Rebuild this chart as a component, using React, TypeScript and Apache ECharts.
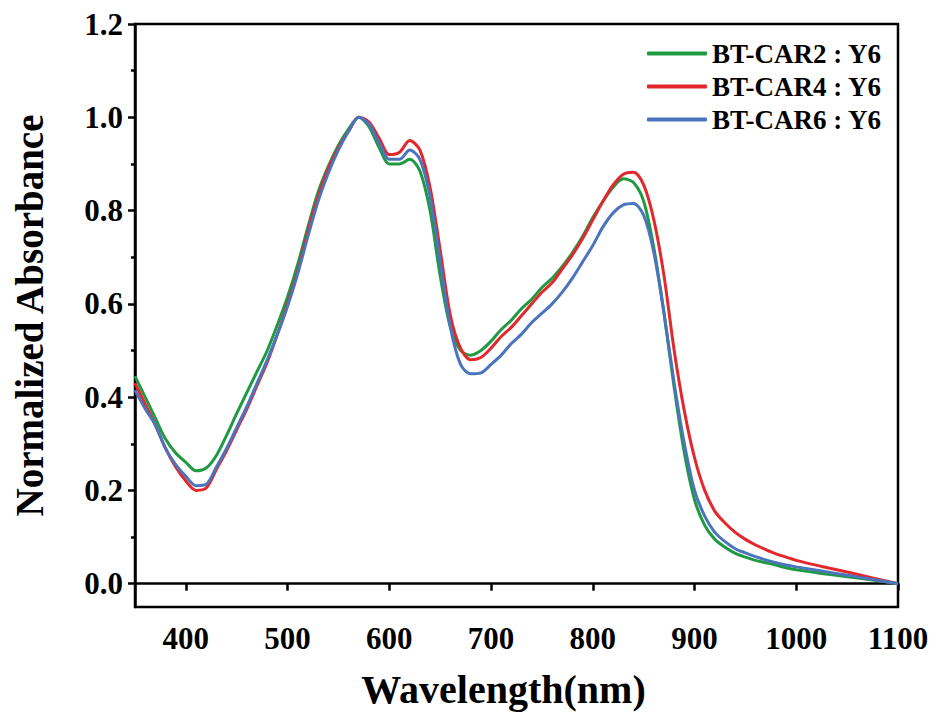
import React, { useEffect, useRef } from "react";
import * as echarts from "echarts";

const wavelengths = [350, 360, 370, 380, 390, 400, 410, 420, 430, 440, 450, 460, 470, 480, 490, 500, 510, 520, 530, 540, 550, 560, 570, 580, 590, 600, 610, 620, 630, 640, 650, 660, 670, 680, 690, 700, 710, 720, 730, 740, 750, 760, 770, 780, 790, 800, 810, 820, 830, 840, 850, 860, 870, 880, 890, 900, 910, 920, 930, 940, 950, 960, 970, 980, 990, 1000, 1025, 1050, 1075, 1100];

const car2 = [0.445, 0.4, 0.355, 0.31, 0.28, 0.26, 0.242, 0.248, 0.275, 0.318, 0.365, 0.41, 0.455, 0.5, 0.555, 0.615, 0.685, 0.765, 0.84, 0.895, 0.94, 0.975, 1.0, 0.98, 0.935, 0.9, 0.9, 0.91, 0.885, 0.8, 0.66, 0.55, 0.5, 0.49, 0.5, 0.52, 0.545, 0.565, 0.59, 0.61, 0.635, 0.655, 0.68, 0.71, 0.745, 0.785, 0.82, 0.85, 0.868, 0.86, 0.82, 0.72, 0.58, 0.42, 0.28, 0.18, 0.125, 0.095, 0.078, 0.065, 0.057, 0.05, 0.045, 0.04, 0.034, 0.03, 0.022, 0.015, 0.008, 0.0];

const car4 = [0.43, 0.385, 0.34, 0.29, 0.25, 0.22, 0.2, 0.205, 0.245, 0.285, 0.33, 0.375, 0.425, 0.475, 0.535, 0.6, 0.67, 0.755, 0.83, 0.89, 0.935, 0.97, 1.0, 0.99, 0.955, 0.92, 0.925, 0.95, 0.93, 0.85, 0.715, 0.575, 0.505, 0.48, 0.485, 0.505, 0.53, 0.55, 0.575, 0.6, 0.625, 0.645, 0.675, 0.705, 0.74, 0.78, 0.82, 0.855, 0.878, 0.882, 0.855, 0.78, 0.66, 0.5, 0.37, 0.27, 0.2, 0.155, 0.13, 0.11, 0.095, 0.083, 0.073, 0.064, 0.057, 0.05, 0.037, 0.025, 0.012, 0.0];

const car6 = [0.415, 0.375, 0.34, 0.29, 0.255, 0.23, 0.21, 0.213, 0.25, 0.29, 0.335, 0.38, 0.43, 0.48, 0.535, 0.595, 0.665, 0.745, 0.82, 0.88, 0.93, 0.97, 1.0, 0.985, 0.945, 0.91, 0.91, 0.93, 0.91, 0.83, 0.69, 0.55, 0.47, 0.45, 0.452, 0.47, 0.49, 0.515, 0.535, 0.56, 0.58, 0.6, 0.625, 0.655, 0.69, 0.725, 0.765, 0.795, 0.812, 0.815, 0.79, 0.71, 0.58, 0.43, 0.3, 0.2, 0.145, 0.11, 0.09, 0.075, 0.066, 0.058, 0.051, 0.045, 0.04, 0.036, 0.027, 0.018, 0.009, 0.0];

const seriesNames = ["BT-CAR2 : Y6", "BT-CAR4 : Y6", "BT-CAR6 : Y6"];
const seriesColors = ["#1f9a42", "#e2282d", "#4a74bb"];
const xTickValues = [400, 500, 600, 700, 800, 900, 1000, 1100];
const yTickValues = [0, 0.2, 0.4, 0.6, 0.8, 1.0, 1.2];
const yMinorValues = [0.1, 0.3, 0.5, 0.7, 0.9, 1.1];

const FONT = "'Liberation Serif', 'Times New Roman', serif";

export default function App() {
  const ref = useRef<HTMLDivElement>(null);
  useEffect(() => {
    if (!ref.current) return;
    const chart = echarts.init(ref.current, null, { renderer: "svg" });
    const allData = [car2, car4, car6];
    const axisLine = { show: true, lineStyle: { color: "#000", width: 2.5 } };
    chart.setOption({
      animation: false,
      backgroundColor: "#fff",
      grid: {
        left: 135,
        right: 39,
        top: 24,
        bottom: 108,
        show: true,
        borderColor: "#000",
        borderWidth: 2.5,
        containLabel: false,
      },
      legend: {
        orient: "vertical",
        right: 50,
        top: 35,
        itemWidth: 60,
        itemHeight: 4,
        itemGap: 6,
        icon: "roundRect",
        data: seriesNames,
        textStyle: {
          fontFamily: FONT,
          fontWeight: "bold",
          fontSize: 27,
          color: "#000",
          lineHeight: 27,
        },
      },
      xAxis: {
        type: "value",
        min: 350,
        max: 1100,
        name: "Wavelength(nm)",
        nameLocation: "middle",
        nameGap: 62,
        nameTextStyle: { fontFamily: FONT, fontWeight: "bold", fontSize: 40, color: "#000", padding: [0, 26, 0, 0] },
        axisLine,
        splitLine: { show: false },
        axisTick: { show: true, inside: true, length: -7, customValues: xTickValues, lineStyle: { color: "#000", width: 2.5 } },
        axisLabel: {
          customValues: xTickValues,
          margin: 16,
          formatter: (v: number) => String(v),
          fontFamily: FONT,
          fontWeight: "bold",
          fontSize: 31,
          color: "#000",
        },
      },
      yAxis: [
        {
          type: "value",
          min: -0.05,
          max: 1.2,
          name: "Normalized Absorbance",
          nameLocation: "middle",
          nameGap: 86,
          nameTextStyle: { fontFamily: FONT, fontWeight: "bold", fontSize: 39, color: "#000" },
          axisLine,
          splitLine: { show: false },
          axisTick: { show: true, inside: true, length: -7, customValues: yTickValues, lineStyle: { color: "#000", width: 2.5 } },
          axisLabel: {
            customValues: yTickValues,
            margin: 12,
            formatter: (v: number) => v.toFixed(1),
            fontFamily: FONT,
            fontWeight: "bold",
            fontSize: 31,
            color: "#000",
          },
        },
        {
          type: "value",
          min: -0.05,
          max: 1.2,
          position: "left",
          axisLine: { show: false },
          splitLine: { show: false },
          axisLabel: { show: false },
          axisTick: { show: true, inside: true, length: -4, customValues: yMinorValues, lineStyle: { color: "#000", width: 2.5 } },
        },
      ],
      series: seriesNames.map((name, i) => ({
        name,
        type: "line",
        smooth: 0.3,
        symbol: "none",
        yAxisIndex: 0,
        data: wavelengths.map((w, j) => [w, allData[i][j]]),
        lineStyle: { color: seriesColors[i], width: 3 },
        itemStyle: { color: seriesColors[i] },
      })),
    });
    return () => chart.dispose();
  }, []);
  return (
    <div
      ref={ref}
      style={{ position: "fixed", left: 0, top: 0, width: 937, height: 715, background: "#fff" }}
    />
  );
}
